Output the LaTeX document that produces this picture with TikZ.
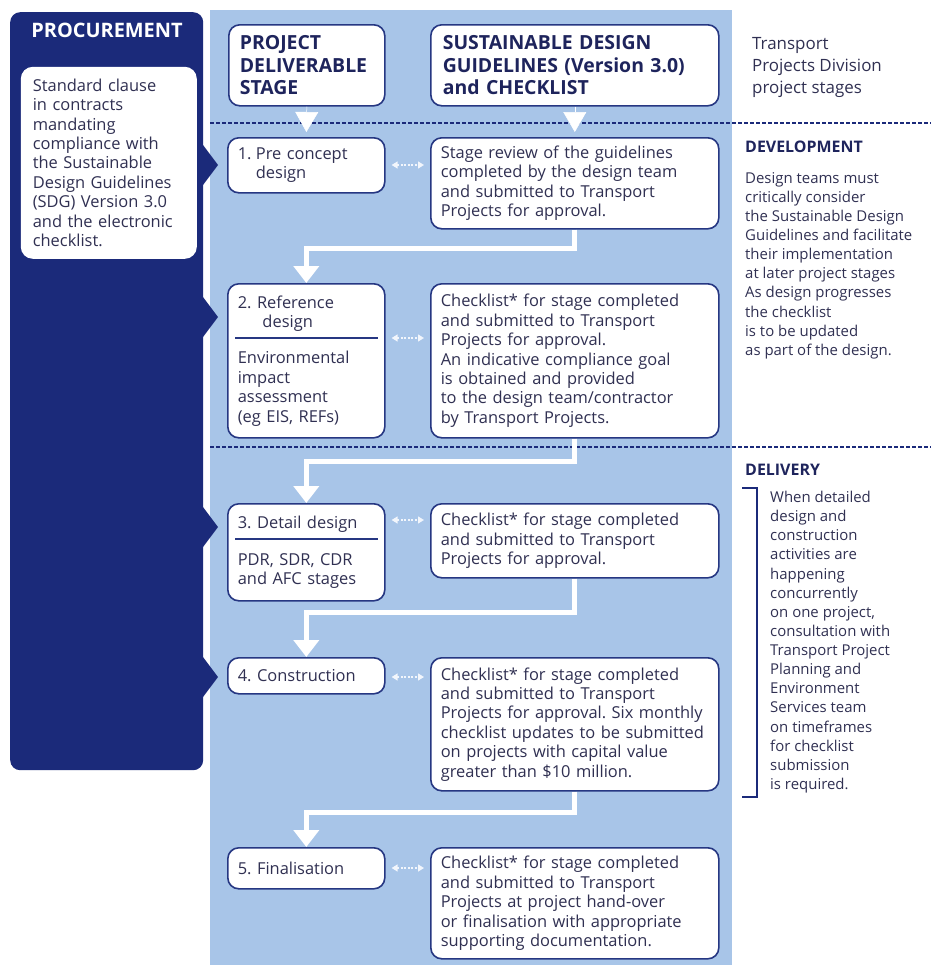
\documentclass[tikz,border=0pt]{standalone}
\usepackage{fontspec}
\setmainfont{Open Sans}
\usetikzlibrary{arrows.meta,calc}
\definecolor{navy}{RGB}{27,42,122}
\definecolor{panelblue}{RGB}{168,197,232}
\definecolor{boxline}{RGB}{38,55,130}
\definecolor{txt}{RGB}{48,48,82}
\definecolor{hdrtxt}{RGB}{30,36,92}
\newcommand\fBody{\fontsize{16.5}{19.5}\selectfont}
\newcommand\fHdr{\fontsize{19.5}{22.5}\bfseries\selectfont}
\newcommand\fProc{\fontsize{20}{22}\bfseries\selectfont}
\newcommand\fSide{\fontsize{15}{19.2}\selectfont}
\newcommand\fSideHd{\fontsize{16}{19}\bfseries\selectfont}
\newcommand\fTitle{\fontsize{17}{22}\selectfont}
\frenchspacing
\begin{document}
\begin{tikzpicture}[x=1bp,y=-1bp,
  box/.style={draw=boxline, line width=1.6bp, fill=white, rounded corners=11bp, inner sep=0pt, text=txt, font=\fBody, align=left, anchor=north west},
  stagebox/.style={box, minimum width=157bp, text width=137bp},
  rbox/.style={box, minimum width=288bp, text width=268bp},
  hdrbox/.style={box, font=\fHdr, text=hdrtxt},
  wconn/.style={draw=white, line width=5bp, -{Triangle[width=25bp,length=17bp]}},
  wtri/.style={draw=white, line width=0.5bp, -{Triangle[width=23bp,length=20bp]}, shorten >=5bp},
  biarrow/.style={draw=white!85!panelblue, line width=1.4bp, dash pattern=on 2bp off 1.5bp, {Triangle[width=7bp,length=6bp]}-{Triangle[width=7bp,length=6bp]}},
  sepline/.style={draw=boxline, line width=1.5bp},
  dashline/.style={draw=navy, line width=1.3bp, dash pattern=on 4bp off 2bp},
  side/.style={inner sep=0pt, anchor=north west, align=left, text=txt, font=\fSide},
  pointer/.style={fill=navy},
]
\useasboundingbox (0,0) rectangle (931,967);
% panels
\node[fill=navy, rounded corners=10bp, minimum width=193bp, minimum height=758bp, anchor=north west, inner sep=0pt] (proc) at (10,12) {};
\node[fill=panelblue, minimum width=522bp, minimum height=955bp, anchor=north west, inner sep=0pt] (panel) at (210,10) {};
\fill[pointer] (203,145) -- (218,165) -- (203,185) -- cycle;
\fill[pointer] (203,297) -- (218,317) -- (203,337) -- cycle;
\fill[pointer] (203,507) -- (218,527) -- (203,547) -- cycle;
\fill[pointer] (203,657) -- (218,677) -- (203,697) -- cycle;
\node[font=\fProc, text=white, anchor=north, inner sep=0pt] (proclbl) at (107,23) {PROCUREMENT};
\node[box, draw=none, rounded corners=12bp, minimum width=176bp, minimum height=192bp, text width=152bp] (procbox) at (20,66) {Standard clause\\in contracts\\mandating\\compliance with\\the Sustainable\\Design Guidelines\\(SDG) Version 3.0\\and the electronic\\checklist.};
% dashed lines
\draw[dashline] (210,123) -- (931,123);
\draw[dashline] (210,447) -- (931,447);
% headers
\node[hdrbox, minimum width=156bp, minimum height=81bp, text width=134bp] (h1) at (228,24) {PROJECT\\DELIVERABLE\\STAGE};
\node[hdrbox, minimum width=288bp, minimum height=81bp, text width=264bp] (h2) at (430,24) {SUSTAINABLE DESIGN\\GUIDELINES (Version 3.0)\\and CHECKLIST};
% stage boxes
\node[stagebox, minimum height=55bp] (s1) at (227,137) {\makebox[1.1em][l]{1.}Pre concept\\\hspace*{1.1em}design};
\node[stagebox, minimum height=154bp] (s2) at (227,283) {2.~Reference\\\hspace*{1.5em}design\\[17bp]Environmental\\impact\\assessment\\(eg EIS, REFs)};
\node[stagebox, minimum height=97bp] (s3) at (227,503) {3.~Detail design\\[17bp]PDR, SDR, CDR\\and AFC stages};
\node[stagebox, minimum height=36bp] (s4) at (227,657) {4.~Construction};
\node[stagebox, minimum height=41bp] (s5) at (227,847) {5.~Finalisation};
\draw[sepline] ($(s2.north west)+(8,55)$) -- ($(s2.north east)+(-8,55)$);
\draw[sepline] ($(s3.north west)+(8,36)$) -- ($(s3.north east)+(-8,36)$);
% right boxes
\node[rbox, minimum height=91bp] (r1) at (430,137) {Stage review of the guidelines\\completed by the design team\\and submitted to Transport\\Projects for approval.};
\node[rbox, minimum height=154bp] (r2) at (430,283) {Checklist* for stage completed\\and submitted to Transport\\Projects for approval.\\An indicative compliance goal\\is obtained and provided\\to the design team/contractor\\by Transport Projects.};
\node[rbox, minimum height=74bp] (r3) at (430,503) {Checklist* for stage completed\\and submitted to Transport\\Projects for approval.};
\node[rbox, minimum height=133bp] (r4) at (430,657) {Checklist* for stage completed\\and submitted to Transport\\Projects for approval. Six monthly\\checklist updates to be submitted\\on projects with capital value\\greater than \$10 million.};
\node[rbox, minimum height=111bp] (r5) at (430,847) {Checklist* for stage completed\\and submitted to Transport\\Projects at project hand-over\\or finalisation with appropriate\\supporting documentation.};
% header arrows
\draw[wtri] (h1.south) -- (s1.north);
\draw[wtri] (h2.south) -- (r1.north);
% turn coordinates
\coordinate (t12) at (0,248);
\coordinate (t23) at (0,461);
\coordinate (t34) at (0,612);
\coordinate (t45) at (0,812);
\draw[wconn] (r1.south) -- (r1.south |- t12) -| (s2.north);
\draw[wconn] (r2.south) -- (r2.south |- t23) -| (s3.north);
\draw[wconn] (r3.south) -- (r3.south |- t34) -| (s4.north);
\draw[wconn] (r4.south) -- (r4.south |- t45) -| (s5.north);
% bidirectional arrows
\coordinate (a1) at ($(s1.north east)+(6,28)$);
\coordinate (a2) at ($(s2.north east)+(6,55)$);
\coordinate (a3) at ($(s3.north east)+(6,17)$);
\coordinate (a4) at ($(s4.north east)+(6,20)$);
\coordinate (a5) at ($(s5.north east)+(6,21)$);
\foreach \i in {1,...,5}{
  \draw[biarrow] (a\i) -- ($(a\i -| r\i.west)+(-6,0)$);
}
% right column
\node[side, font=\fTitle] (title) at (752,37) {Transport\\Projects Division\\project stages};
\node[side, font=\fSideHd, text=hdrtxt] (dev) at (745,141) {DEVELOPMENT};
\node[side] (devtext) at (745,172) {Design teams must\\critically consider\\the Sustainable Design\\Guidelines and facilitate\\their implementation\\at later project stages\\As design progresses\\the checklist\\is to be updated\\as part of the design.};
\node[side, font=\fSideHd, text=hdrtxt] (deliv) at (745,464) {DELIVERY};
\node[side] (delivtext) at (770,491) {When detailed\\design and\\construction\\activities are\\happening\\concurrently\\on one project,\\consultation with\\Transport Project\\Planning and\\Environment\\Services team\\on timeframes\\for checklist\\submission\\is required.};
\draw[navy, line width=1.3bp] (742,488) -- (757,488) -- (757,797) -- (742,797);
\end{tikzpicture}
\end{document}
